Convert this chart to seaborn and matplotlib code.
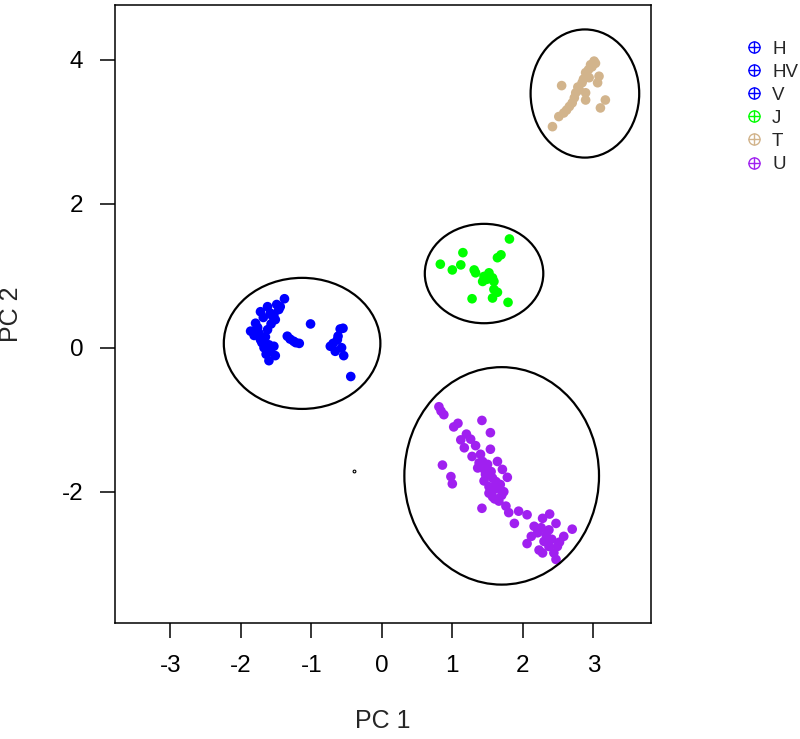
import numpy as np
import pandas as pd
import matplotlib
matplotlib.use("Agg")
import matplotlib.pyplot as plt
from matplotlib.patches import Ellipse
from matplotlib.lines import Line2D
from matplotlib.legend_handler import HandlerTuple
import seaborn as sns

# ---- data ----
h_x = [-1.62, -1.72, -1.58, -1.46, -1.44, -1.51, -1.79, -1.86, -1.74, -1.62, -1.72, -1.60, -1.67,
       -1.58, -1.51, -1.60, -1.68, -1.55, -1.76, -1.65, -1.70, -1.53, -1.64, -1.81, -1.57]
h_y = [0.57, 0.50, 0.48, 0.53, 0.57, 0.39, 0.34, 0.23, 0.20, 0.25, 0.11, 0.04, 0.00,
       -0.05, -0.11, -0.18, 0.42, 0.44, 0.28, 0.15, 0.07, 0.02, -0.09, 0.17, 0.33]
hv_x = [-1.38, -1.01, -1.34, -1.25, -1.17, -1.30, -1.22, -1.49, -1.53]
hv_y = [0.68, 0.33, 0.16, 0.09, 0.06, 0.12, 0.07, 0.60, 0.46]
v_x = [-0.55, -0.63, -0.73, -0.66, -0.54, -0.44, -0.59, -0.69, -0.62, -0.57]
v_y = [0.27, 0.11, 0.02, -0.05, -0.11, -0.40, 0.26, 0.06, 0.16, 0.00]
j_x = [1.81, 0.83, 1.15, 1.00, 1.12, 1.31, 1.69, 1.64, 1.52, 1.45, 1.57, 1.43, 1.59, 1.59, 1.64,
       1.28, 1.57, 1.79, 1.33, 1.49]
j_y = [1.51, 1.16, 1.32, 1.08, 1.15, 1.08, 1.29, 1.25, 1.04, 0.99, 0.97, 0.92, 0.92, 0.81, 0.77,
       0.68, 0.69, 0.63, 1.04, 0.95]
t_x = [2.42, 2.55, 3.01, 2.96, 2.89, 2.84, 2.80, 2.73, 2.66, 2.58, 2.51, 3.08, 3.06, 2.89, 2.89,
       3.17, 3.10, 2.75, 2.93, 2.98, 2.70, 2.62, 2.86, 2.78, 3.03, 2.94]
t_y = [3.07, 3.64, 3.98, 3.93, 3.82, 3.68, 3.58, 3.47, 3.35, 3.26, 3.21, 3.77, 3.68, 3.54, 3.44,
       3.44, 3.33, 3.54, 3.86, 3.90, 3.40, 3.30, 3.73, 3.62, 3.95, 3.75]
u_x = [0.81, 0.88, 1.02, 1.42, 1.54, 1.12, 1.26, 1.54, 1.17, 1.28, 1.43, 0.86, 1.64, 1.71, 1.78,
       1.36, 1.47, 1.57, 0.98, 1.00, 1.52, 1.59, 1.73, 1.57, 1.66, 1.42, 1.76, 1.80, 1.94, 2.06,
       1.88, 2.28, 2.38, 2.16, 2.47, 2.37, 2.70, 2.21, 2.58, 2.06, 2.30, 2.23, 2.37, 2.49, 2.44,
       2.47, 2.28, 0.84, 1.08, 1.20, 1.33, 1.40, 1.50, 1.46, 1.55, 1.62, 1.68, 1.38, 1.45, 1.52,
       1.60, 1.65, 1.70, 2.33, 2.41, 2.52, 2.12, 2.26]
u_y = [-0.82, -0.93, -1.10, -1.01, -1.18, -1.28, -1.27, -1.41, -1.39, -1.51, -1.58, -1.63, -1.58,
       -1.69, -1.80, -1.67, -1.76, -1.81, -1.79, -1.89, -1.93, -1.97, -2.00, -2.07, -2.13, -2.23,
       -2.20, -2.29, -2.27, -2.32, -2.44, -2.37, -2.31, -2.48, -2.44, -2.53, -2.52, -2.57, -2.62,
       -2.72, -2.69, -2.81, -2.76, -2.76, -2.85, -2.94, -2.85, -0.88, -1.05, -1.20, -1.36, -1.48,
       -1.62, -1.70, -1.72, -1.86, -1.90, -1.60, -1.85, -2.02, -2.10, -1.95, -2.05, -2.60, -2.66,
       -2.70, -2.62, -2.50]
groups = ["H", "HV", "V", "J", "T", "U"]
colors = ["#0000FF", "#0000FF", "#0000FF", "#00FF00", "#D2B48C", "#A020F0"]
# ellipses: center x, center y, width, height
ell_cx = [-1.13, 1.45, 2.88, 1.70]
ell_cy = [0.06, 1.03, 3.53, -1.78]
ell_w = [2.22, 1.68, 1.54, 2.76]
ell_h = [1.82, 1.38, 1.78, 3.02]
extra_x = [-0.39]
extra_y = [-1.71]

xs = [h_x, hv_x, v_x, j_x, t_x, u_x]
ys = [h_y, hv_y, v_y, j_y, t_y, u_y]
df = pd.concat([pd.DataFrame({"PC1": x, "PC2": y, "grp": g}) for x, y, g in zip(xs, ys, groups)],
               ignore_index=True)

sns.set_style("white")
plt.rcParams["font.family"] = ["Liberation Sans", "DejaVu Sans"]
plt.rcParams["axes.unicode_minus"] = False

fig = plt.figure(figsize=(8, 7.39), dpi=100)
ax = fig.add_axes([0.144, 0.1563, 0.67, 0.837])

sns.scatterplot(data=df, x="PC1", y="PC2", hue="grp", palette=dict(zip(groups, colors)),
                s=48, edgecolor="none", legend=False, ax=ax, zorder=3)
ax.scatter(extra_x, extra_y, s=4, facecolor="white", edgecolor="black", linewidth=0.8, zorder=3)

for cx, cy, w, h in zip(ell_cx, ell_cy, ell_w, ell_h):
    ax.add_patch(Ellipse((cx, cy), w, h, fill=False, edgecolor="black", lw=1.6, zorder=4))

ax.set_xlim(-3.78, 3.82)
ax.set_ylim(-3.83, 4.76)
ax.set_xticks([-3, -2, -1, 0, 1, 2, 3])
ax.set_yticks([-2, 0, 2, 4])
ax.set_xlabel("PC 1", fontsize=18, labelpad=23)
ax.set_ylabel("PC 2", fontsize=18, labelpad=28)
ax.tick_params(axis="both", direction="out", length=11, width=1.1, labelsize=17.5, pad=12,
               bottom=True, left=True, colors="black")
for sp in ax.spines.values():
    sp.set_color("black")
    sp.set_linewidth(1.1)

handles = []
for c in colors:
    circ = Line2D([], [], marker="o", markerfacecolor="none", markeredgecolor=c,
                  markersize=8, markeredgewidth=1.0, linestyle="none")
    plus = Line2D([], [], marker="+", color=c, markersize=8, markeredgewidth=1.0, linestyle="none")
    handles.append((circ, plus))
fig.legend(handles, groups, handler_map={tuple: HandlerTuple(ndivide=1, pad=0)},
           loc="upper left", bbox_to_anchor=(0.917, 0.958), frameon=False, fontsize=13.5,
           handletextpad=0.35, labelspacing=0.32, handlelength=1.2, borderpad=0)

fig.savefig("out.png", dpi=100)
